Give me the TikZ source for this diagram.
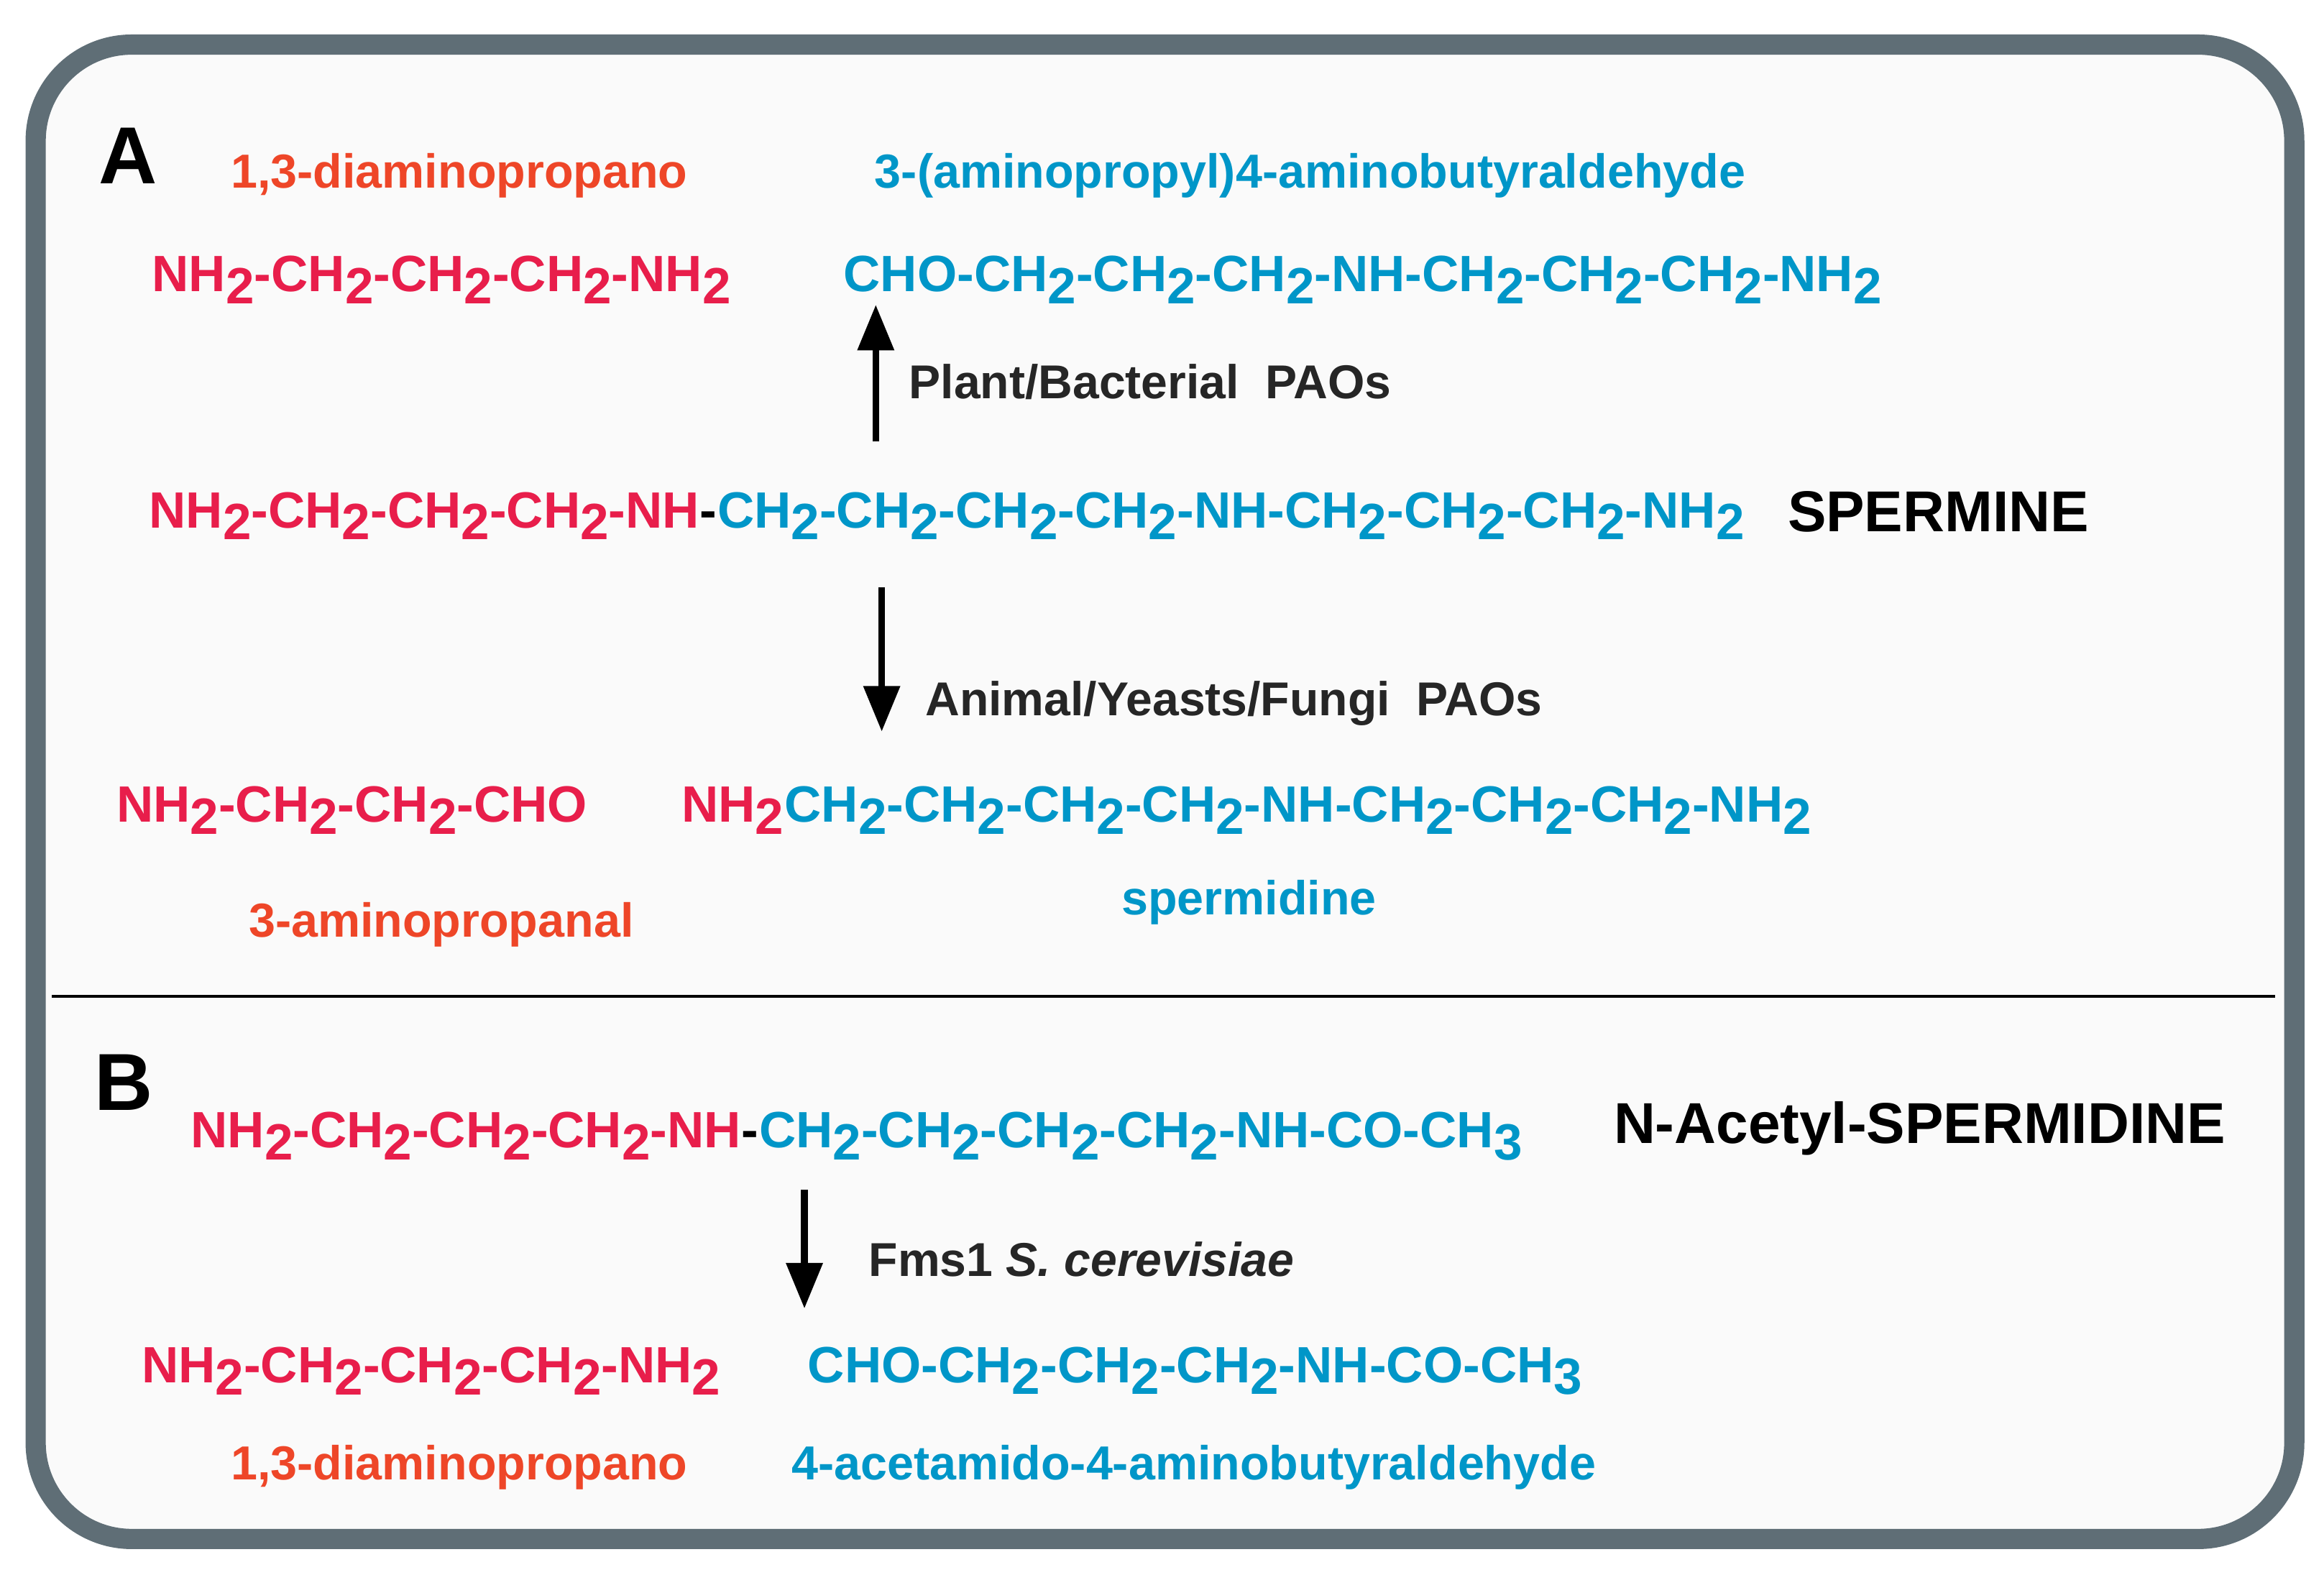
\documentclass[tikz,border=0pt]{standalone}
\usepackage{fontspec}
\setmainfont{Liberation Sans}
\usetikzlibrary{positioning}
\usetikzlibrary{arrows.meta}
\definecolor{chemred}{RGB}{232,30,75}
\definecolor{chemblue}{RGB}{0,150,200}
\definecolor{namered}{RGB}{238,70,40}
\definecolor{framegray}{RGB}{95,110,118}
\newcommand{\ix}[1]{\raisebox{-0.45ex}{#1}}

\begin{document}
\begin{tikzpicture}
    [
    x=0.02068cm, y=-0.02068cm,
    every node/.style={inner sep=0pt, anchor=west, font=\bfseries},
    formula/.style={font=\fontsize{20.2}{20}\selectfont\bfseries},
    label red/.style={text=namered, font=\fontsize{18.9}{19}\selectfont\bfseries},
    label blue/.style={text=chemblue, font=\fontsize{18.9}{19}\selectfont\bfseries},
    enzyme/.style={text=black!85, font=\fontsize{18.8}{19}\selectfont\bfseries},
    title/.style={font=\fontsize{22.8}{23}\selectfont\bfseries},
    panel/.style={font=\fontsize{32}{32}\selectfont\bfseries},
    reaction/.style={line width=2.6pt, -{Triangle[length=18pt,width=14pt]}},
    ]

    \useasboundingbox (0,0) rectangle (1563,1059);
    \draw[line width=8pt, draw=framegray, fill=black!2, rounded corners=38pt]
        (24,30) rectangle (1543,1035);
    \coordinate (divl) at (35,670);
    \coordinate (divr) at (1530,670);
    \draw[line width=1pt] (divl) -- (divr);

    % panel A
    \node[panel] (A) at (66,105) {A};
    \node[label red] (dap) at (155,118) {1,3-diaminopropano};
    \node[label blue] (apab) at (588,118) {3-(aminopropyl)4-aminobutyraldehyde};
    \node[formula, text=chemred] (dapf) at (102,188)
        {NH\ix{2}-CH\ix{2}-CH\ix{2}-CH\ix{2}-NH\ix{2}};
    \node[formula, text=chemblue] (apabf) at (567,188)
        {CHO-CH\ix{2}-CH\ix{2}-CH\ix{2}-NH-CH\ix{2}-CH\ix{2}-CH\ix{2}-NH\ix{2}};
    \node[formula, text=chemred] (sperA) at (100,347)
        {NH\ix{2}-CH\ix{2}-CH\ix{2}-CH\ix{2}-NH\textcolor{black}{-}};
    \node[formula, text=chemblue, right=0pt of sperA] (sperB)
        {CH\ix{2}-CH\ix{2}-CH\ix{2}-CH\ix{2}-NH-CH\ix{2}-CH\ix{2}-CH\ix{2}-NH\ix{2}};
    \node[title] (spermine) at (1202,344) {SPERMINE};
    \coordinate (upS) at (589,297);
    \coordinate (upE) at (589,205);
    \draw[reaction] (upS) -- (upE);
    \node[enzyme] (plant) at (611,257) {Plant/Bacterial\ \ PAOs};
    \coordinate (dnS) at (593,395);
    \coordinate (dnE) at (593,492);
    \draw[reaction] (dnS) -- (dnE);
    \node[enzyme] (animal) at (622,473) {Animal/Yeasts/Fungi\ \ PAOs};
    \node[formula, text=chemred] (apf) at (78,545) {NH\ix{2}-CH\ix{2}-CH\ix{2}-CHO};
    \node[formula, text=chemred] (spdA) at (458,545) {NH\ix{2}};
    \node[formula, text=chemblue, right=0pt of spdA] (spdB)
        {CH\ix{2}-CH\ix{2}-CH\ix{2}-CH\ix{2}-NH-CH\ix{2}-CH\ix{2}-CH\ix{2}-NH\ix{2}};
    \node[label blue, anchor=center] (spd) at (840,607) {spermidine};
    \node[label red] (ap) at (167,622) {3-aminopropanal};

    % panel B
    \node[panel] (B) at (63,728) {B};
    \node[formula, text=chemred] (acA) at (128,764)
        {NH\ix{2}-CH\ix{2}-CH\ix{2}-CH\ix{2}-NH\textcolor{black}{-}};
    \node[formula, text=chemblue, right=0pt of acA] (acB)
        {CH\ix{2}-CH\ix{2}-CH\ix{2}-CH\ix{2}-NH-CO-CH\ix{3}};
    \node[title] (acspd) at (1085,759) {N-Acetyl-SPERMIDINE};
    \coordinate (fmS) at (541,800);
    \coordinate (fmE) at (541,880);
    \draw[reaction] (fmS) -- (fmE);
    \node[enzyme] (fms) at (584,847) {Fms1 \textit{S. cerevisiae}};
    \node[formula, text=chemred] (dapB) at (95,922)
        {NH\ix{2}-CH\ix{2}-CH\ix{2}-CH\ix{2}-NH\ix{2}};
    \node[formula, text=chemblue] (aabB) at (543,922)
        {CHO-CH\ix{2}-CH\ix{2}-CH\ix{2}-NH-CO-CH\ix{3}};
    \node[label red] (dapBl) at (155,987) {1,3-diaminopropano};
    \node[label blue] (aabl) at (532,987) {4-acetamido-4-aminobutyraldehyde};
\end{tikzpicture}
\end{document}
